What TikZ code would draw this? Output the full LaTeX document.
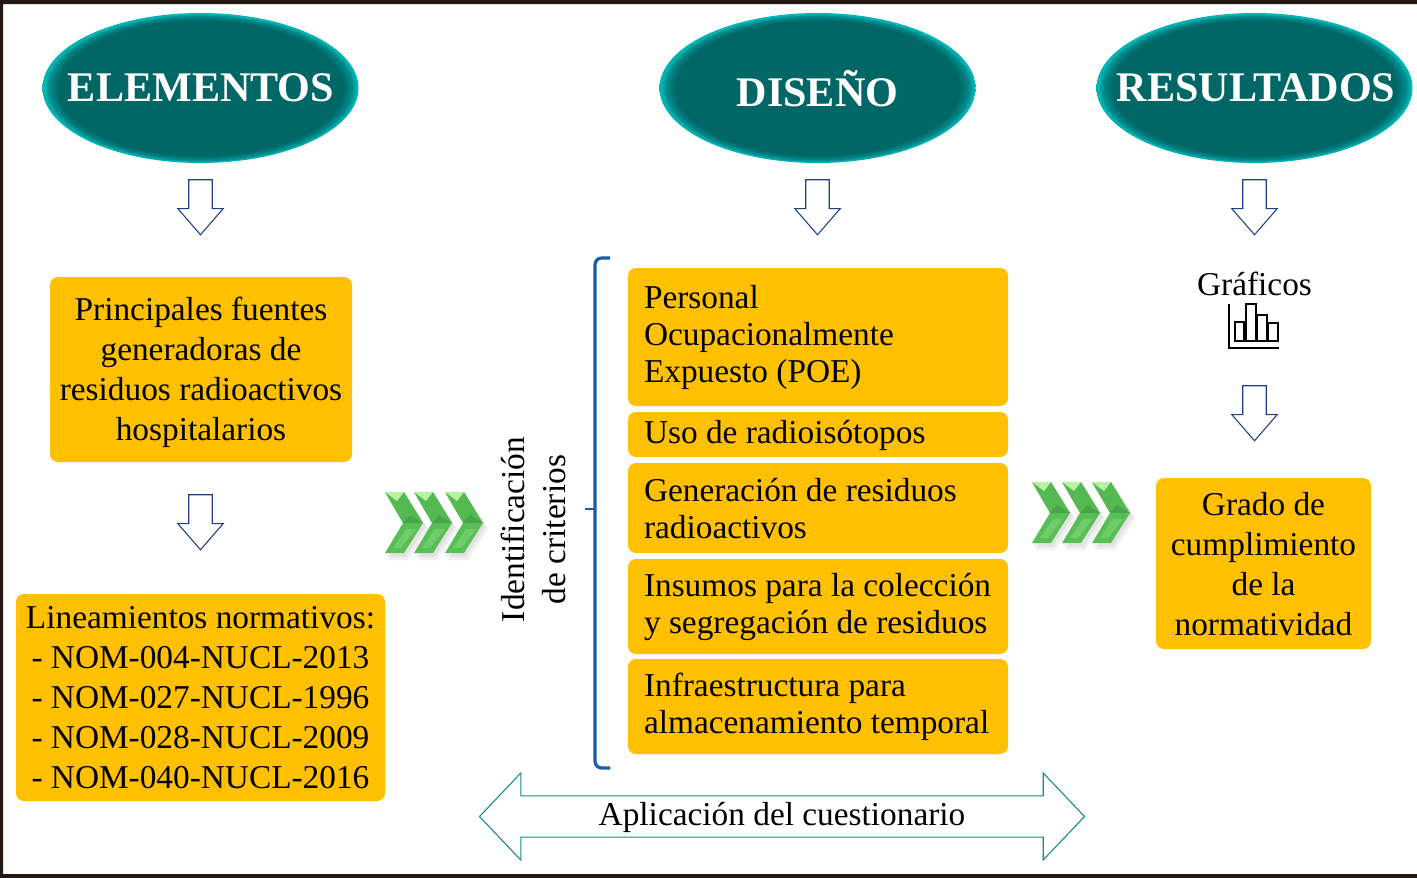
\documentclass[tikz,border=0pt]{standalone}
\usepackage{fontspec}
\setmainfont{Liberation Serif}
\usetikzlibrary{shapes.geometric,shapes.arrows}
\definecolor{tealdk}{HTML}{006666}
\definecolor{tealmd}{HTML}{008C8C}
\definecolor{tealbr}{HTML}{00B5B5}
\definecolor{orangebox}{HTML}{FFC000}
\definecolor{arrowblue}{HTML}{1F3F86}
\definecolor{arrowteal}{HTML}{17897F}
\definecolor{bracketblue}{HTML}{1A5CA8}
\definecolor{framedk}{HTML}{231815}
\definecolor{chevmd}{HTML}{55B952}
\definecolor{chevlt}{HTML}{B9F2A2}
\definecolor{chevdk}{HTML}{48A448}
\definecolor{chevbt}{HTML}{58BE55}
\definecolor{chevlg}{HTML}{6FCC69}
\pgfdeclareradialshading{bevel}{\pgfpoint{0bp}{0bp}}{color(0bp)=(tealdk); color(22.5bp)=(tealdk); color(24bp)=(tealmd); color(24.7bp)=(tealbr); color(25bp)=(tealbr); color(50bp)=(tealbr)}
\newcommand{\pad}[1]{\rule{0pt}{#1}}
\tikzset{
  head/.style={ellipse, shading=bevel, minimum width=237pt, minimum height=112.5pt, inner sep=0pt,
    text=white, font=\fontsize{31.6}{36}\selectfont\bfseries},
  box/.style={fill=orangebox, rounded corners=6pt, inner sep=0pt, align=center,
    font=\fontsize{25}{30}\selectfont},
  leftbox/.style={box, align=flush left, minimum width=285pt, text width=261pt,
    font=\fontsize{25}{27.75}\selectfont},
  downarrow/.style={single arrow, draw=arrowblue, fill=white, line width=0.8pt, shape border rotate=270, inner sep=8.4pt,
    minimum height=41.25pt, minimum width=33.75pt, single arrow head extend=8.25pt, single arrow tip angle=82},
  chev/.pic={
    \fill[black!55, opacity=0.10] (3,6) -- (23,6) -- (43,37) -- (23,68) -- (3,68) -- (22,37) -- cycle;
    \fill[black!55, opacity=0.10] (1,3) -- (21,3) -- (41,34) -- (21,65) -- (1,65) -- (20,34) -- cycle;
    \fill[chevmd] (0,0) -- (19,0) -- (38,31) -- (18,31) -- cycle;
    \fill[chevlt] (0,0) -- (19,0) -- (12,9) -- cycle;
    \fill[chevdk] (18,31) -- (25,23) -- (38,31) -- cycle;
    \fill[chevbt] (18,31) -- (38,31) -- (19,61) -- (0,61) -- cycle;
    \fill[chevlg] (21,37) -- (31,37) -- (16,56) -- (8,56) -- cycle;
  }
}
\begin{document}
\begin{tikzpicture}[x=0.75pt,y=-0.75pt]
\useasboundingbox (0,0) rectangle (1417,878);
\fill[white] (0,0) rectangle (1417,878);
\fill[framedk, even odd rule] (0,0) rectangle (1417,878) (3,4) rectangle (1417,874);

% headings
\node[head] (E) at (200.5,88) {\makebox[0pt]{\hspace{0.8pt}ELEMENTOS}};
\node[head] (D) at (817.5,88) {\makebox[0pt]{\pad{28.5pt}DISEÑO}};
\node[head] (R) at (1254.5,88) {\makebox[0pt]{\hspace{2.4pt}RESULTADOS}};

% hollow arrows
\node[downarrow] (a1) at (200.5,200.5) {};
\node[downarrow] (a2) at (817.5,200.5) {};
\node[downarrow] (a3) at (1254.5,200.5) {};
\node[downarrow] (a4) at (200.5,515.5) {};
\node[downarrow] (a5) at (1254.5,406.5) {};

% left column
\node[box, minimum width=226.5pt, minimum height=138.75pt] (F) at (201,369.5) {\pad{21.5pt}Principales fuentes\\generadoras de\\residuos radioactivos\\hospitalarios};
\node[box, minimum width=276.75pt, minimum height=155.25pt] (L) at (200.5,697.5) {Lineamientos normativos:\\- NOM-004-NUCL-2013\\- NOM-027-NUCL-1996\\- NOM-028-NUCL-2009\\- NOM-040-NUCL-2016};

% middle column
\node[rotate=90, align=center, font=\fontsize{25}{30.5}\selectfont] (I) at (533.5,529.5) {Identificación\\de criterios};
\draw[bracketblue, line width=2.4pt, rounded corners=5pt] (610,258) -- (595,258) -- (595,768) -- (610,768);
\draw[bracketblue, line width=2pt] (595,509) -- (585,509);
\node[leftbox, minimum height=103.5pt] (b1) at (818,337) {\pad{18pt}Personal\\Ocupacionalmente\\Expuesto (POE)};
\node[leftbox, minimum height=33.75pt] (b2) at (818,434.5) {\pad{18.5pt}Uso de radioisótopos};
\node[leftbox, minimum height=67.5pt] (b3) at (818,508) {\pad{18pt}Generación de residuos\\radioactivos};
\node[leftbox, minimum height=71.25pt] (b4) at (818,606.5) {\pad{18pt}Insumos para la colección\\y segregación de residuos};
\node[leftbox, minimum height=71.25pt] (b5) at (818,706.5) {\pad{18pt}Infraestructura para\\almacenamiento temporal};

% right column
\node[font=\fontsize{25}{30}\selectfont] (G) at (1254.5,284) {Gráficos};
\draw[line width=0.8pt] (1229,304) -- (1229,348) -- (1279,348);
\draw[line width=0.8pt] (1235,322) rectangle (1244,341);
\draw[line width=0.8pt] (1246,304) rectangle (1256,341);
\draw[line width=0.8pt] (1257,315) rectangle (1267,341);
\draw[line width=0.8pt] (1268,323) rectangle (1278,341);
\node[box, minimum width=161.25pt, minimum height=128.25pt] (N) at (1263.5,563.5) {\pad{18.5pt}Grado de\\cumplimiento\\de la\\normatividad};

% bottom arrow
\node[double arrow, draw=arrowteal, line width=0.8pt, inner xsep=0pt, inner ysep=2.5pt, minimum height=453.75pt, minimum width=65.25pt,
  double arrow head extend=16.9pt, double arrow tip angle=93, font=\fontsize{25}{30}\selectfont] (C) at (782,816.5) {\pad{19.5pt}Aplicación del cuestionario};

% chevrons
\foreach \x in {385,414,445} \pic at (\x,492) {chev};
\foreach \x in {1032,1062,1092} \pic at (\x,482) {chev};
\end{tikzpicture}
\end{document}
